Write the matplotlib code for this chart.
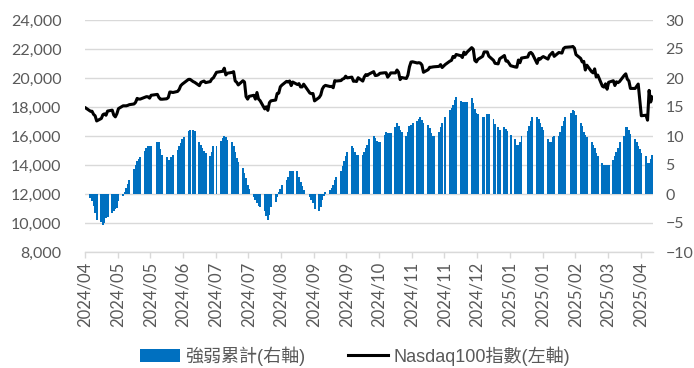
import matplotlib
matplotlib.use("Agg")
import matplotlib.pyplot as plt
import matplotlib.dates as mdates
from matplotlib.ticker import FuncFormatter, FixedLocator
import pandas as pd
import numpy as np

plt.rcParams["font.family"] = ["Lato", "Noto Sans CJK TC"]

# US market holidays inside the plotted window
holidays = ["2024-05-27", "2024-06-19", "2024-07-04", "2024-09-02", "2024-11-28",
            "2024-12-25", "2025-01-01", "2025-01-09", "2025-01-20", "2025-02-17"]
trade_days = pd.bdate_range("2024-04-12", "2025-04-11").difference(pd.to_datetime(holidays))

# cumulative strength indicator (right axis), one value per trading day, grouped by week
strength = [
    0.0,
    -0.7, -1.2, -2.0, -3.3, -4.5,
    -4.8, -5.3, -5.0, -4.2, -3.9,
    -3.2, -3.0, -2.5, -2.4, -1.2,
    -0.3, 0.3, 1.0, 1.8, 2.5,
    4.3, 5.0, 5.7, 6.1, 6.4,
    7.5, 8.0, 8.3, 8.3, 8.3,
    8.9, 8.9, 7.8, 6.7,
    6.4, 5.9, 5.9, 6.4, 6.7,
    7.6, 8.2, 8.8, 9.4, 9.9,
    10.8, 11.0, 11.0, 10.8,
    8.9, 8.5, 8.0, 7.5, 7.0,
    6.6, 7.2, 8.2, 8.3,
    9.2, 9.7, 10.0, 9.8, 9.3,
    8.9, 8.2, 7.3, 6.2, 5.6,
    4.4, 3.6, 2.7, 1.6, 0.8,
    -0.6, -1.0, -1.5, -2.0, -2.2,
    -3.0, -3.8, -4.5, -3.6, -2.2,
    -1.4, -0.5, 0.3, 0.9, 1.6,
    2.4, 3.0, 3.9, 3.9, 3.9,
    3.9, 3.0, 2.1, 1.3, 0.7,
    -0.6, -1.0, -1.6, -2.5,
    -3.0, -2.2, -1.0, -0.3, 0.3,
    0.7, 1.0, 1.6, 2.4, 3.0,
    3.9, 4.8, 5.7, 6.6, 7.3,
    8.3, 7.9, 7.3, 6.8, 6.8,
    6.8, 7.3, 8.0, 8.4, 9.4,
    10.0, 9.6, 9.2, 8.9, 8.9,
    10.2, 10.7, 10.6, 10.5, 10.5,
    11.6, 12.3, 11.7, 11.1, 10.7,
    10.0, 10.7, 11.7, 11.9, 12.2,
    12.5, 13.0, 13.2, 12.8, 12.2,
    11.9, 11.3, 10.6, 10.0, 10.0,
    10.7, 11.6, 12.3, 13.2,
    14.4, 14.8, 15.3, 16.2, 16.8,
    16.0, 15.9, 15.9, 15.9, 15.9,
    16.5, 15.7, 14.6, 13.9, 13.8,
    13.2, 13.2, 13.8, 13.8,
    12.9, 12.0, 11.5, 11.0,
    11.5, 11.2, 10.8, 10.2,
    9.4, 8.5, 8.5, 9.0, 10.0,
    10.9, 11.7, 12.5, 13.2,
    13.2, 12.9, 12.2, 11.6, 11.1,
    9.4, 9.0, 9.0, 9.9, 10.0,
    10.0, 10.7, 11.7, 12.5, 13.3,
    14.0, 14.5, 14.3, 13.6,
    12.3, 11.7, 10.7, 10.2, 9.9,
    8.9, 8.4, 8.0, 7.0, 6.6,
    5.4, 5.0, 5.0, 5.0, 5.0,
    5.9, 6.6, 7.3, 8.0, 8.9,
    10.0, 11.6, 11.5, 11.0, 10.3,
    9.5, 8.9, 8.3, 7.7, 7.0,
    6.5, 5.4, 5.4, 6.0, 6.7,
]

# Nasdaq 100 close (left axis), one value per trading day, grouped by week
ndx = [
    17930,
    17707, 17707, 17493, 17394, 17037,
    17210, 17471, 17526, 17431, 17718,
    17783, 17441, 17321, 17540, 17890,
    18082, 18085, 18081, 18113, 18161,
    18208, 18322, 18593, 18547, 18546,
    18675, 18713, 18705, 18611, 18809,
    18870, 18654, 18539, 18536,
    18567, 18648, 19035, 19024, 19000,
    19074, 19210, 19465, 19576, 19659,
    19904, 19908, 19752, 19701,
    19473, 19701, 19750, 19789, 19683,
    19751, 19935, 20011, 20392,
    20440, 20463, 20675, 20211, 20331,
    20386, 20436, 19798, 19702, 19522,
    19812, 19723, 18720, 18542, 18737,
    18808, 18544, 19000, 18550, 18440,
    17867, 18014, 17768, 18297, 18427,
    18479, 18933, 18957, 19389, 19508,
    19766, 19721, 19795, 19476, 19721,
    19551, 19611, 19386, 19383, 19574,
    18960, 18921, 18930, 18421,
    18660, 18829, 19239, 19417, 19490,
    19412, 19423, 19328, 19817, 19791,
    19822, 19925, 19965, 20125, 20009,
    20061, 19774, 19782, 19757, 20021,
    19787, 20082, 20238, 20177, 20271,
    20439, 20172, 20181, 20225, 20324,
    20361, 20362, 20054, 20193, 20352,
    20351, 20551, 20398, 19890, 20033,
    19965, 20200, 20771, 21101, 21118,
    21036, 21058, 21027, 20897, 20394,
    20574, 20739, 20741, 20763, 20776,
    20800, 20923, 20722, 20930,
    21165, 21213, 21485, 21418, 21623,
    21537, 21412, 21784, 21631, 21781,
    22096, 21988, 21208, 21112, 21289,
    21491, 21798, 21798, 21506,
    21218, 21012, 20975, 21326,
    21551, 21171, 21179, 20848,
    20757, 20742, 21238, 21050, 21377,
    21447, 21710, 21764, 21659,
    21006, 21340, 21296, 21411, 21478,
    21304, 21554, 21658, 21772, 21491,
    21759, 21737, 21719, 22030, 22115,
    22148, 22175, 22062, 21614,
    21353, 21111, 21146, 20551, 20884,
    20440, 20353, 20629, 20067, 20202,
    19430, 19373, 19597, 19226, 19705,
    19811, 19483, 19737, 19678, 19754,
    20180, 20287, 19917, 19798, 19281,
    19279, 19436, 19582, 18521, 17398,
    17431, 17091, 19145, 18343, 18690,
]

left_ticks = [8000, 10000, 12000, 14000, 16000, 18000, 20000, 22000, 24000]
right_ticks = [-10, -5, 0, 5, 10, 15, 20, 25, 30]

BLUE = "#0070C0"
GRID = "#d9d9d9"
TEXT = "#595959"

W, H = 694, 368
fig = plt.figure(figsize=(W / 100, H / 100), dpi=100)
L, R, T, B = 85, 653, 20, 252
ax_bar = fig.add_axes([L / W, 1 - B / H, (R - L) / W, (B - T) / H])
ax_line = ax_bar.twinx()

# day slots: each trading day occupies one calendar-day slot
xpos = mdates.date2num(trade_days) + 0.5
start = mdates.date2num(pd.Timestamp("2024-04-12"))
end = mdates.date2num(pd.Timestamp("2025-04-12"))

bars = ax_bar.bar(xpos, strength, width=1.25, color=BLUE, linewidth=0,
                  antialiased=False, label="強弱累計(右軸)", zorder=2)
line, = ax_line.plot(xpos, ndx, color="black", lw=2.2, solid_joinstyle="round",
                     label="Nasdaq100指數(左軸)")

ax_bar.set_xlim(start, end)
ax_bar.set_ylim(-10, 30)
ax_bar.yaxis.tick_right()
ax_bar.set_yticks(right_ticks)
ax_line.set_ylim(8000, 24000)
ax_line.yaxis.tick_left()
ax_line.set_yticks(left_ticks)
ax_line.yaxis.set_major_formatter(FuncFormatter(lambda v, p: f"{int(v):,}"))

ax_bar.grid(axis="y", color=GRID, lw=1.0)
ax_bar.set_axisbelow(True)

tick_dates = pd.date_range("2024-04-12", periods=18, freq="21D")
ax_bar.xaxis.set_major_locator(FixedLocator(mdates.date2num(tick_dates)))
ax_bar.xaxis.set_major_formatter(mdates.DateFormatter("%Y/%m"))

for s in ax_bar.spines.values():
    s.set_visible(False)
for s in ax_line.spines.values():
    s.set_visible(False)
ax_bar.spines["bottom"].set_visible(True)
ax_bar.spines["bottom"].set_color(GRID)
ax_bar.spines["bottom"].set_linewidth(1.0)

ax_bar.tick_params(axis="x", length=4, width=1.0, color=GRID, labelcolor=TEXT,
                   labelsize=12, pad=3, labelrotation=90)
ax_bar.tick_params(axis="y", length=0, labelcolor=TEXT, labelsize=11.5, pad=9)
ax_line.tick_params(axis="y", length=0, labelcolor=TEXT, labelsize=11.5, pad=17)

leg = fig.legend(handles=[bars, line], loc="center", bbox_to_anchor=(355 / W, 1 - 356 / H),
                 ncol=2, frameon=False, handlelength=2.2, handleheight=0.7,
                 handletextpad=0.3, columnspacing=2.4,
                 prop={"family": ["Liberation Sans", "Noto Sans CJK TC"], "size": 13})
for t in leg.get_texts():
    t.set_color(TEXT)

fig.savefig("out.png", dpi=100)
